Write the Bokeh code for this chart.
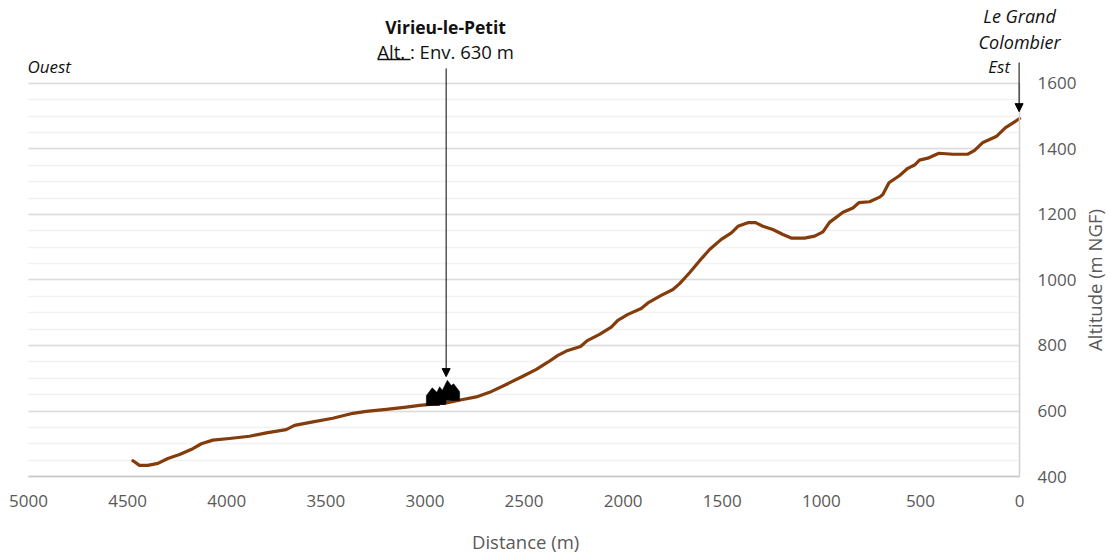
import math
from bokeh.plotting import figure
from bokeh.embed import file_html
from bokeh.resources import INLINE
from bokeh.models import (Range1d, SingleIntervalTicker, Label, Arrow, NormalHead)

FONT = "Open Sans"

distance = [4473,4440,4398,4347,4297,4238,4171,4128,4070,3986,3885,3800,3700,3658,3565,3465,3363,3296,3195,3094,3027,
            2892,2809,2741,2674,2590,2506,2438,2380,2329,2287,2215,2181,2119,2060,2027,1976,1909,1875,1808,1749,
            1715,1665,1614,1564,1505,1454,1421,1371,1332,1295,1245,1194,1152,1085,1034,992,959,891,841,811,757,706,
            690,659,605,564,530,505,463,407,336,261,227,185,118,71,25,0]
altitude = [448,434,434,440,455,467,485,500,511,516,523,533,543,556,567,578,593,599,605,612,617,
            625,635,643,657,681,706,727,749,770,783,797,815,834,856,877,895,913,930,953,971,
            989,1022,1059,1093,1124,1144,1164,1175,1175,1164,1154,1139,1128,1128,1134,1147,1176,1207,1220,1236,1239,1253,
            1261,1297,1319,1341,1351,1366,1372,1387,1384,1384,1396,1420,1438,1465,1483,1493]

village_x = [2993,2993,2963,2940,2926,2912,2887,2867,2855,2825,2825,2892,2896,2926,2926]
village_y = [617,647,671,657,674,663,694,678,683,659,632,632,620,620,617]

x_ticks_interval = 500
y_ticks_interval = 200

# The frame fills the page so that the texts round the plot are not clipped; the axes are
# held at the plot's own edges and limited to its own extent.
p = figure(frame_width=1107, frame_height=553, output_backend="svg", toolbar_location=None,
           x_range=Range1d(5141.3, -443.5), y_range=Range1d(164.9, 1853.4),
           x_axis_location="below", y_axis_location="right",
           min_border_left=0, min_border_right=0, min_border_top=0, min_border_bottom=0,
           background_fill_color="white", border_fill_color="white", outline_line_color=None)

xa = p.xaxis[0]
xa.ticker = SingleIntervalTicker(interval=x_ticks_interval)
xa.bounds = (0, 5000)
xa.fixed_location = 400
ya = p.yaxis[0]
ya.ticker = SingleIntervalTicker(interval=y_ticks_interval, num_minor_ticks=4)
ya.bounds = (400, 1600)
ya.fixed_location = 0
for a, c in ((xa, "#c8c8c8"), (ya, "#d0d0d0")):
    a.axis_line_color = c
    a.axis_line_width = 1.5
    a.major_tick_line_color = None
    a.minor_tick_line_color = None
    a.major_label_text_font = FONT
    a.major_label_text_font_size = "17px"
    a.major_label_text_color = "#595959"
xa.major_label_standoff = 12
ya.major_label_standoff = 12

p.xgrid.visible = False
p.ygrid.ticker = ya.ticker
p.ygrid.bounds = (400, 1600)
p.ygrid.cross_bounds = (0, 5000)
p.ygrid.grid_line_color = "#dcdcdc"
p.ygrid.grid_line_width = 1.5
p.ygrid.minor_grid_line_color = "#f2f2f2"
p.ygrid.minor_grid_line_width = 1.5

p.line(distance, altitude, line_color="#843c0c", line_width=3.2, line_join="round", line_cap="round")
p.patch(village_x, village_y, fill_color="black", line_color="black", line_width=0.5)

def arrow(x, y0, y1):
    p.add_layout(Arrow(end=NormalHead(size=8, fill_color="black", line_color="black"),
                       x_start=x, y_start=y0, x_end=x, y_end=y1, line_color="black", line_width=1))

arrow(2893, 1646, 705)
arrow(2.5, 1664, 1514)
p.add_layout(Arrow(end=None, x_start=3239, y_start=1673, x_end=3073, y_end=1673,
                   line_color="#111111", line_width=1.5))

def label(x, y, text, style="normal", size="16px", align="center", color="#111111", angle=0):
    p.add_layout(Label(x=x, y=y, text=text, text_font=FONT, text_font_size=size, text_font_style=style,
                       text_align=align, text_baseline="middle", text_color=color, angle=angle))

label(2896, 1774, "Virieu-le-Petit", style="bold", size="17.5px")
label(2896, 1698, "Alt. : Env. 630 m", size="18.5px")
label(5005, 1652, "Ouest", style="italic", size="17px", align="left")
label(103, 1652, "Est", style="italic", size="17px")
label(0, 1807, "Le Grand", style="italic", size="18px")
label(0, 1728, "Colombier", style="italic", size="18px")
label(2492, 201, "Distance (m)", size="18.5px", color="#595959")
label(-378, 1000, "Altitude (m NGF)", size="18.5px", color="#595959", angle=math.pi / 2)

open("out.html", "w").write(file_html(p, INLINE))
